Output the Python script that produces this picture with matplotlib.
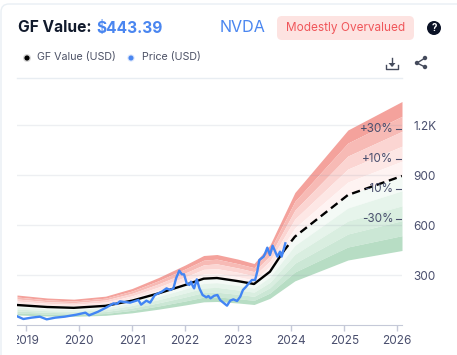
import matplotlib
matplotlib.use("Agg")
import matplotlib.pyplot as plt
from matplotlib.patches import FancyBboxPatch, Circle, Polygon
from matplotlib.transforms import Bbox

plt.rcParams['font.family'] = ['Inter', 'DejaVu Sans']

# years where the bands bend
band_years = [2018.83, 2019.4, 2019.9, 2020.5, 2021, 2021.5, 2022, 2022.35, 2022.6, 2023, 2023.3, 2023.6, 2024.07, 2025.07, 2026.09]

# band edges (top to bottom)
plus50 = [180, 162, 155, 173, 219, 285, 360, 417, 423, 395, 369, 480, 795, 1170, 1341]
plus40 = [168, 151, 144, 161, 204, 266, 336, 389, 395, 368, 344, 448, 742, 1092, 1252]
plus30 = [156, 140, 134, 150, 190, 247, 312, 361, 367, 342, 320, 416, 689, 1014, 1162]
plus20 = [144, 130, 124, 138, 175, 228, 288, 334, 338, 316, 295, 384, 636, 936, 1073]
plus10 = [132, 119, 113, 127, 161, 209, 264, 306, 310, 289, 271, 352, 583, 858, 983]
middle = [120, 108, 103, 115, 146, 190, 240, 278, 282, 263, 246, 320, 530, 780, 894]
minus10 = [108, 97, 93, 104, 131, 171, 216, 250, 254, 237, 221, 288, 477, 702, 805]
minus20 = [96, 86, 82, 92, 117, 152, 192, 222, 226, 210, 197, 256, 424, 624, 715]
minus30 = [84, 76, 72, 81, 102, 133, 168, 195, 197, 184, 172, 224, 371, 546, 626]
minus40 = [72, 65, 62, 69, 88, 114, 144, 167, 169, 158, 148, 192, 318, 468, 536]
minus50 = [60, 54, 52, 58, 73, 95, 120, 139, 141, 132, 123, 160, 265, 390, 447]

# GF value line
gf_years = [2018.83, 2019.4, 2019.9, 2020.5, 2021, 2021.5, 2022, 2022.35, 2022.6, 2023, 2023.3, 2023.6, 2023.85]
gf_values = [120, 108, 103, 115, 146, 190, 240, 278, 282, 263, 246, 320, 440]
future_years = [2023.85, 2024.07, 2025.07, 2026.09]
future_values = [440, 530, 780, 894]

# price
price_years = [2018.82, 2018.95, 2019.10, 2019.26, 2019.39, 2019.55, 2019.73, 2019.95, 2020.12, 2020.19,
               2020.36, 2020.52, 2020.65, 2020.71, 2020.77, 2020.96, 2021.12, 2021.17, 2021.27, 2021.34,
               2021.43, 2021.56, 2021.65, 2021.72, 2021.78, 2021.83, 2021.89, 2021.94, 2021.98, 2022.03,
               2022.08, 2022.11, 2022.15, 2022.17, 2022.22, 2022.27, 2022.33, 2022.40, 2022.44, 2022.48,
               2022.55, 2022.61, 2022.66, 2022.72, 2022.79, 2022.85, 2022.91, 2022.98, 2023.04, 2023.09,
               2023.15, 2023.20, 2023.26, 2023.32, 2023.36, 2023.40, 2023.48, 2023.51, 2023.55, 2023.60,
               2023.65, 2023.70, 2023.74, 2023.79, 2023.82, 2023.89]
price_values = [54, 36, 44, 50, 34, 44, 50, 62, 74, 58,
                80, 106, 130, 126, 142, 134, 150, 122, 146, 134,
                180, 200, 220, 210, 220, 280, 326, 304, 304, 250,
                240, 260, 230, 220, 274, 220, 180, 166, 174, 160,
                176, 180, 150, 134, 116, 146, 154, 144, 170, 210,
                230, 250, 270, 270, 320, 390, 410, 430, 464, 420,
                476, 440, 410, 440, 410, 490]

year_ticks = [2019, 2020, 2021, 2022, 2023, 2024, 2025, 2026]
value_ticks = [300, 600, 900, 1200]
value_labels = ['300', '600', '900', '1.2K']
pct_labels = ['+30%', '+10%', '-10%', '-30%']
pct_values = [1176, 996, 816, 636]

edges = [plus50, plus40, plus30, plus20, plus10, middle, minus10, minus20, minus30, minus40, minus50]
band_colors = ['#f4a29c', '#f7bab5', '#fbd5d2', '#fde7e5', '#fef3f2',
               '#f4faf6', '#e6f4eb', '#d9eee0', '#cbe7d5', '#b7ddc4']

W, H = 457, 355
fig = plt.figure(figsize=(W / 100, H / 100), dpi=100, facecolor='white')

# card, header and icons, in pixels
bg = fig.add_axes([0, 0, 1, 1])
bg.set_xlim(0, W)
bg.set_ylim(H, 0)
bg.axis('off')
bg.add_patch(FancyBboxPatch((1, 4), 500, 400, boxstyle='round,pad=0,rounding_size=8',
                            fc='white', ec='#e9eff4', lw=1))
bg.plot([17, 402], [78, 78], color='#e8edf2', lw=1)

bg.text(18, 28, 'GF Value:', fontsize=11.2, fontweight='bold', color='#111a2c', va='center')
bg.text(96, 28, '$443.39', fontsize=11.2, fontweight='bold', color='#4a86f0', va='center')
bg.text(220, 28, 'NVDA', fontsize=11.6, color='#4a86f0', va='center')
bg.add_patch(FancyBboxPatch((277, 16), 137, 24, boxstyle='round,pad=0,rounding_size=5',
                            fc='#fde3e1', ec='none'))
bg.text(345.5, 28, 'Modestly Overvalued', fontsize=8.5, color='#f0565a', va='center', ha='center')
bg.add_patch(Circle((434, 28), 7, fc='#0b1226', ec='none'))
bg.text(434, 28, '?', fontsize=7, fontweight='bold', color='white', va='center', ha='center')

bg.add_patch(Circle((27, 58), 4, fc='#d8d8d8', ec='none'))
bg.add_patch(Circle((27, 58), 2.6, fc='black', ec='none'))
bg.text(37, 57, 'GF Value (USD)', fontsize=7.7, color='#4d5266', va='center')
bg.add_patch(Circle((131, 58), 3.6, fc='#d6e4fc', ec='none'))
bg.add_patch(Circle((131, 58), 2.5, fc='#4a86f0', ec='none'))
bg.text(142, 57, 'Price (USD)', fontsize=7.7, color='#4d5266', va='center')

# download icon
bg.plot([392, 392], [58, 65], color='#454b5c', lw=1)
bg.add_patch(Polygon([[388.5, 63], [395.5, 63], [392, 67]], fc='#454b5c', ec='none'))
bg.plot([386, 386, 398, 398], [65, 69, 69, 65], color='#454b5c', lw=1)
# share icon
bg.plot([425, 417, 425], [58, 63, 67], color='#454b5c', lw=1)
for sx, sy in [(425, 58), (417, 63), (425, 67)]:
    bg.add_patch(Circle((sx, sy), 2.2, fc='#454b5c', ec='none'))

# chart
ax = fig.add_axes([17 / W, 1 - 325 / H, 385 / W, 245 / H])
ax.patch.set_alpha(0)
for i in range(len(band_colors)):
    ax.fill_between(band_years, edges[i], edges[i + 1], color=band_colors[i], lw=0, zorder=1)

ax.set_xlim(2018.83, 2026.09)
ax.set_ylim(0, 1470)
ax.set_xticks(year_ticks)
ax.set_xticklabels([str(y) for y in year_ticks])
ax.yaxis.tick_right()
ax.set_yticks(value_ticks)
ax.set_yticklabels(value_labels)
ax.tick_params(axis='x', length=4, width=1, color='#c5c9d8', labelsize=8.5, labelcolor='#4a4f6e', pad=3)
ax.tick_params(axis='y', length=0, labelsize=8.5, labelcolor='#4a4f6e', pad=8)
ax.grid(axis='y', color='#8a94a8', alpha=0.15, lw=1, zorder=2)
ax.set_axisbelow(False)
for name in ['top', 'left', 'right']:
    ax.spines[name].set_visible(False)
ax.spines['bottom'].set_color('#c5c9d8')

ax.plot(gf_years, gf_values, color='black', lw=1.7, zorder=4, solid_joinstyle='round')
ax.plot(future_years, future_values, color='black', lw=1.7, dashes=(3.5, 2.0), zorder=4)
ax.plot(price_years, price_values, color='#4285f4', lw=1.7, zorder=5, solid_joinstyle='round')

for label, v in zip(pct_labels, pct_values):
    ax.text(2025.93, v, label, fontsize=8.4, color='#4a4f6e', ha='right', va='center', zorder=6)
    ax.plot([2025.98, 2026.09], [v, v], color='#4a4f6e', lw=0.8, zorder=6)

# first year label is cut by the chart edge
fig.canvas.draw()
first = ax.get_xticklabels()[0]
first.set_clip_box(Bbox([[17, 0], [W, H]]))
first.set_clip_on(True)

fig.savefig('out.png', dpi=100)
